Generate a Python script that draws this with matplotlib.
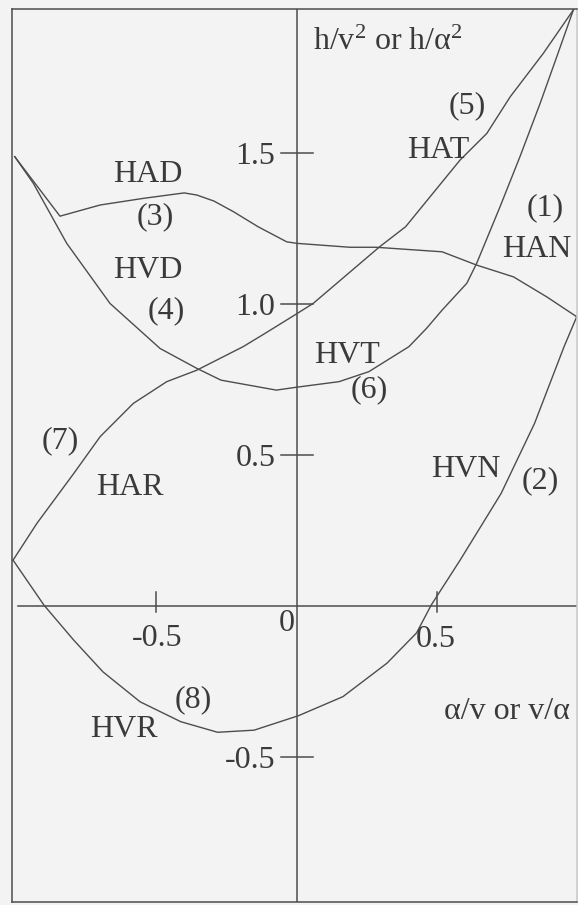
import matplotlib
matplotlib.use("Agg")
import matplotlib.pyplot as plt

plt.rcParams['font.family'] = ['Liberation Serif', 'DejaVu Serif']
plt.rcParams['mathtext.fontset'] = 'custom'
plt.rcParams['mathtext.rm'] = 'Liberation Serif'
plt.rcParams['mathtext.it'] = 'Liberation Serif'
plt.rcParams['mathtext.default'] = 'rm'

# Curve (3)/(1): HAD on the left, HAN on the right
had_x = [-1.003, -0.842, -0.699, -0.545, -0.400, -0.355, -0.294, -0.225, -0.137,
         -0.035, 0.001, 0.190, 0.283, 0.518, 0.641, 0.772, 0.890, 0.997]
had_y = [1.488, 1.291, 1.328, 1.350, 1.368, 1.361, 1.341, 1.306, 1.256,
         1.206, 1.201, 1.188, 1.188, 1.173, 1.129, 1.090, 1.024, 0.958]

# Curve (4)/(6): HVD on the left, HVT on the right
hvd_x = [-1.003, -0.937, -0.818, -0.664, -0.486, -0.355, -0.269, -0.072, -0.005,
         0.151, 0.257, 0.400, 0.463, 0.518, 0.606, 0.641, 0.724, 0.795, 0.867,
         0.926, 0.985]
hvd_y = [1.488, 1.400, 1.201, 1.002, 0.853, 0.787, 0.748, 0.715, 0.724,
         0.743, 0.776, 0.859, 0.920, 0.980, 1.069, 1.135, 1.322, 1.488, 1.665,
         1.819, 1.974]

# Curve (7)/(5): HAR on the left, HAT on the right
har_x = [-1.009, -0.924, -0.793, -0.699, -0.581, -0.462, -0.355, -0.190, -0.112,
         -0.006, 0.059, 0.296, 0.388, 0.582, 0.677, 0.760, 0.878, 0.985]
har_y = [0.152, 0.274, 0.439, 0.561, 0.671, 0.743, 0.781, 0.859, 0.903,
         0.964, 1.002, 1.190, 1.256, 1.477, 1.565, 1.686, 1.830, 1.974]

# Curve (8)/(2): HVR on the left, HVN on the right
hvr_x = [-1.009, -0.899, -0.793, -0.689, -0.557, -0.412, -0.281, -0.151, 0.007,
         0.165, 0.322, 0.427, 0.479, 0.582, 0.728, 0.847, 0.952, 0.997]
hvr_y = [0.152, 0.003, -0.113, -0.218, -0.317, -0.383, -0.418, -0.411, -0.363,
         -0.300, -0.189, -0.089, 0.003, 0.152, 0.373, 0.605, 0.859, 0.958]

y_ticks = [1.5, 1.0, 0.5, -0.5]
y_tick_labels = ['1.5', '1.0', '0.5', '-0.5']
x_ticks = [-0.5, 0.5]
x_tick_labels = ['-0.5', '0.5']

region_names = ['HAD', '(3)', 'HVD', '(4)', 'HAT', '(5)', 'HAN', '(1)',
                'HVT', '(6)', 'HAR', '(7)', 'HVN', '(2)', 'HVR', '(8)']
region_x = [-0.528, -0.504, -0.528, -0.464, 0.504, 0.607, 0.856, 0.884,
            0.180, 0.258, -0.593, -0.842, 0.603, 0.867, -0.614, -0.368]
region_y = [1.404, 1.263, 1.086, 0.954, 1.483, 1.632, 1.156, 1.295,
            0.804, 0.692, 0.368, 0.523, 0.427, 0.391, -0.434, -0.334]

INK = '#3a3a3a'
LINE = '#4d4d4d'
BG = '#f3f3f3'
FS = 23

fig = plt.figure(figsize=(5.78, 9.05), dpi=100)
fig.patch.set_facecolor(BG)
ax = fig.add_axes([12.5 / 578, 1 - 902 / 905, (577 - 12.5) / 578, (902 - 9) / 905])
ax.set_facecolor(BG)
ax.set_xlim(-1.011, 0.998)
ax.set_ylim(-0.980, 1.977)
for s in ax.spines.values():
    s.set_color(LINE)
    s.set_linewidth(1.1)
ax.spines['right'].set_color('#c8c8c8')
ax.set_xticks([])
ax.set_yticks([])

# coordinate axes through the origin
ax.plot([-0.991, 0.998], [0, 0], color=LINE, lw=1.1)
ax.plot([0, 0], [-0.980, 1.977], color=LINE, lw=1.1)

for v, lab in zip(y_ticks, y_tick_labels):
    ax.plot([-0.055, 0.058], [v, v], color=LINE, lw=1.1)
    ax.text(-0.075, v, lab, ha='right', va='center_baseline', fontsize=FS, color=INK)
for v in x_ticks:
    ax.plot([v, v], [-0.02, 0.045], color=LINE, lw=1.1)
x_label_pos = [(-0.497, -0.096), (0.496, -0.099)]
for lab, (x, y) in zip(x_tick_labels, x_label_pos):
    ax.text(x, y, lab, ha='center', va='center_baseline', fontsize=FS, color=INK)
ax.text(-0.034, -0.046, '0', ha='center', va='center_baseline', fontsize=FS, color=INK)

for xs, ys in [(had_x, had_y), (hvd_x, hvd_y), (har_x, har_y), (hvr_x, hvr_y)]:
    ax.plot(xs, ys, color=LINE, lw=1.0, solid_joinstyle='round')

for name, x, y in zip(region_names, region_x, region_y):
    ax.text(x, y, name, ha='center', va='baseline', fontsize=FS, color=INK)

ax.text(0.059, 1.841, r'h/v$^{2}$ or h/$\alpha^{2}$', ha='left', va='baseline',
        fontsize=FS, color=INK)
ax.text(0.525, -0.375, '\u03b1/v or v/\u03b1', ha='left', va='baseline',
        fontsize=FS, color=INK, clip_on=False)

fig.savefig('out.png', dpi=100, facecolor=BG)
